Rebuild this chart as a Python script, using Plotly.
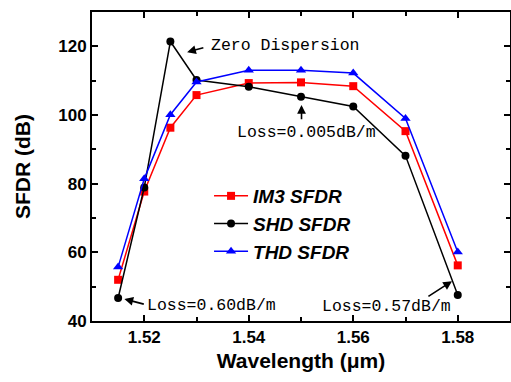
import plotly.graph_objects as go

wavelength = [1.515, 1.52, 1.525, 1.53, 1.54, 1.55, 1.56, 1.57, 1.58]
im3_sfdr = [52.0, 77.7, 96.3, 105.8, 109.3, 109.5, 108.4, 95.3, 56.2]
shd_sfdr = [46.7, 78.9, 121.4, 110.2, 108.2, 105.3, 102.5, 88.1, 47.6]
thd_sfdr = [55.7, 81.4, 100.1, 109.6, 113.0, 113.0, 112.2, 99.0, 60.1]
x_ticks = [1.52, 1.54, 1.56, 1.58]
y_ticks = [40, 60, 80, 100, 120]

fig = go.Figure()
fig.add_trace(go.Scatter(x=wavelength, y=im3_sfdr, mode="lines+markers",
                         name="<b><i>IM3 SFDR</i></b>",
                         line=dict(color="#ff0000", width=1.5),
                         marker=dict(symbol="square", size=8, color="#ff0000")))
fig.add_trace(go.Scatter(x=wavelength, y=shd_sfdr, mode="lines+markers",
                         name="<b><i>SHD SFDR</i></b>",
                         line=dict(color="#000000", width=1.5),
                         marker=dict(symbol="circle", size=8, color="#000000")))
fig.add_trace(go.Scatter(x=wavelength, y=thd_sfdr, mode="lines+markers",
                         name="<b><i>THD SFDR</i></b>",
                         line=dict(color="#0000ff", width=1.5),
                         marker=dict(symbol="triangle-up", size=9, color="#0000ff")))

ann_font = dict(family="Liberation Mono, Courier New, monospace", size=16.5, color="black")

def arrow(hx, hy, tx, ty):
    fig.add_annotation(x=hx, y=hy, ax=tx, ay=ty, xref="x", yref="y", axref="x", ayref="y",
                       text="", showarrow=True, arrowhead=2, arrowsize=1.1, arrowwidth=1.6,
                       arrowcolor="black")

arrow(1.5282, 118.3, 1.5316, 119.7)
fig.add_annotation(x=1.5324, y=120.3, text="Zero Dispersion", showarrow=False,
                   xanchor="left", yanchor="middle", font=ann_font)
arrow(1.5501, 102.9, 1.5501, 98.3)
fig.add_annotation(x=1.5511, y=94.8, text="Loss=0.005dB/m", showarrow=False,
                   xanchor="center", yanchor="middle", font=ann_font)
arrow(1.5162, 46.4, 1.5202, 44.8)
fig.add_annotation(x=1.5202, y=44.6, text="Loss=0.60dB/m", showarrow=False,
                   xanchor="left", yanchor="middle", font=ann_font)
arrow(1.5789, 51.6, 1.5741, 46.9)
fig.add_annotation(x=1.5663, y=44.3, text="Loss=0.57dB/m", showarrow=False,
                   xanchor="center", yanchor="middle", font=ann_font)

axis_common = dict(showgrid=False, zeroline=False, showline=True, linecolor="black",
                   linewidth=2, mirror="ticks", ticks="inside", ticklen=6, tickwidth=1.5,
                   tickcolor="black", automargin=False,
                   tickfont=dict(family="Arial, Liberation Sans, sans-serif", size=17,
                                 color="black"))

fig.update_xaxes(range=[1.51, 1.59], tickvals=x_ticks,
                 ticktext=[f"<b>{v:.2f}</b>" for v in x_ticks],
                 minor=dict(dtick=0.01, tick0=1.51, ticks="inside", ticklen=4, tickcolor="black", tickwidth=1.5),
                 title=dict(text="<b>Wavelength (μm)</b>", standoff=7,
                            font=dict(family="Arial, Liberation Sans, sans-serif", size=21, color="black")),
                 **axis_common)
fig.update_yaxes(range=[40, 130], tickvals=y_ticks,
                 ticktext=[f"<b>{v}</b>" for v in y_ticks],
                 minor=dict(dtick=10, tick0=40, ticks="inside", ticklen=4, tickcolor="black", tickwidth=1.5),
                 title=dict(text="<b>SFDR (dB)</b>", standoff=22,
                            font=dict(family="Arial, Liberation Sans, sans-serif", size=21, color="black")),
                 **axis_common)

fig.update_layout(
    width=511, height=382,
    margin=dict(l=92, r=1, t=12, b=61),
    paper_bgcolor="white", plot_bgcolor="white",
    showlegend=True,
    legend=dict(x=0.28, y=0.466, xanchor="left", yanchor="top", bgcolor="rgba(0,0,0,0)",
                font=dict(family="Arial, Liberation Sans, sans-serif", size=19, color="black"),
                itemwidth=34, tracegroupgap=0),
)

fig.write_html("out.html", config={"displayModeBar": False},
               post_script="document.body.style.margin='0';document.body.style.overflow='hidden';")
